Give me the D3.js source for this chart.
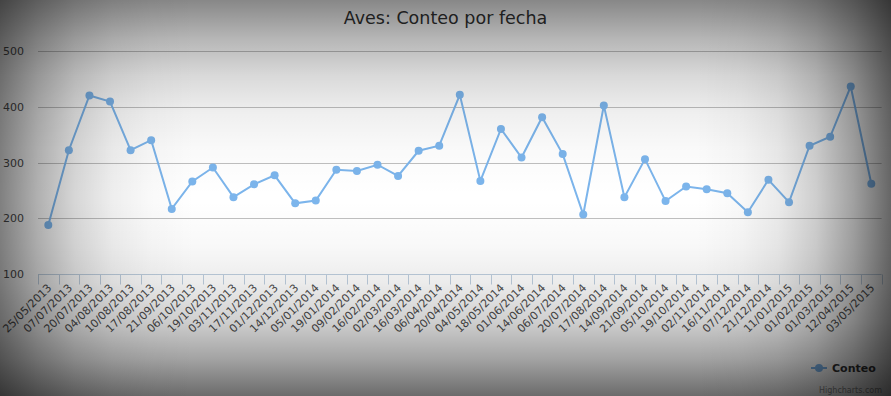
<!DOCTYPE html>
<html>
<head>
<meta charset="utf-8">
<script src="https://cdn.jsdelivr.net/npm/d3@7"></script>
<style>
  body { margin: 0; background: #fff; }
  text { font-family: "DejaVu Sans", Verdana, sans-serif; }
</style>
</head>
<body>
<div id="chart"></div>
<script>
// fechas del conteo
const fechas = ["25/05/2013","07/07/2013","20/07/2013","04/08/2013","10/08/2013","17/08/2013",
  "21/09/2013","06/10/2013","19/10/2013","03/11/2013","17/11/2013","01/12/2013","14/12/2013",
  "05/01/2014","19/01/2014","09/02/2014","16/02/2014","02/03/2014","16/03/2014","06/04/2014",
  "20/04/2014","04/05/2014","18/05/2014","01/06/2014","14/06/2014","06/07/2014","20/07/2014",
  "17/08/2014","14/09/2014","21/09/2014","05/10/2014","19/10/2014","02/11/2014","16/11/2014",
  "07/12/2014","21/12/2014","11/01/2015","01/02/2015","01/03/2015","12/04/2015","03/05/2015"];

const conteo = [188, 322, 420, 409, 322, 340, 217, 266, 291, 238, 261, 277, 227,
  232, 287, 285, 296, 276, 321, 330, 421, 267, 360, 309, 381, 315, 207,
  402, 238, 306, 231, 257, 252, 245, 211, 269, 229, 330, 346, 436, 262];

const yTicks = [100, 200, 300, 400, 500];

const width = 891, height = 396;
const plot = {left: 38, right: 881.6, top: 50.7, bottom: 274.3};
const lineColor = "#7cb5ec";

const svg = d3.select("#chart")
  .append("svg")
    .attr("width", width)
    .attr("height", height);

svg.append("rect")
  .attr("width", width)
  .attr("height", height)
  .attr("fill", "#fff");

let x = d3.scaleBand()
  .domain(fechas)
  .range([plot.left, plot.right]);

let y = d3.scaleLinear()
  .domain([100, 500])
  .range([plot.bottom, plot.top]);

// grid lines
svg.append("g")
  .selectAll("line")
  .data(yTicks.filter(d => d > 100))
  .join("line")
    .attr("x1", plot.left)
    .attr("x2", plot.right)
    .attr("y1", d => Math.round(y(d)) + 0.5)
    .attr("y2", d => Math.round(y(d)) + 0.5)
    .attr("stroke", "#c0c0c0")
    .attr("stroke-width", 1);

// y labels
svg.append("g")
  .selectAll("text")
  .data(yTicks)
  .join("text")
    .attr("x", 24)
    .attr("y", d => y(d) + 4)
    .attr("text-anchor", "end")
    .attr("fill", "#4d4d4d")
    .style("font-size", "11px")
    .text(d => d);

// x axis
const xAxis = svg.append("g")
  .attr("transform", `translate(0, ${Math.round(plot.bottom) + 0.5})`);

xAxis.append("line")
  .attr("x1", plot.left)
  .attr("x2", plot.right)
  .attr("stroke", "#c0d0e0");

xAxis.selectAll("line.tick")
  .data(fechas.concat(["__end"]))
  .join("line")
    .attr("class", "tick")
    .attr("x1", (d, i) => Math.round(plot.left + i * x.bandwidth()) + 0.5)
    .attr("x2", (d, i) => Math.round(plot.left + i * x.bandwidth()) + 0.5)
    .attr("y1", 0)
    .attr("y2", 10)
    .attr("stroke", "#c0d0e0");

xAxis.selectAll("text")
  .data(fechas)
  .join("text")
    .attr("text-anchor", "end")
    .attr("transform", d => `translate(${x(d) + x.bandwidth() / 2 + 4}, 14) rotate(-45)`)
    .attr("fill", "#4d4d4d")
    .style("font-size", "11px")
    .text(d => d);

// serie
const pts = fechas.map((f, i) => ({f: f, v: conteo[i]}));

svg.append("path")
  .datum(pts)
  .attr("d", d3.line()
    .x(d => x(d.f) + x.bandwidth() / 2)
    .y(d => y(d.v)))
  .attr("fill", "none")
  .attr("stroke", lineColor)
  .attr("stroke-width", 2);

svg.append("g")
  .selectAll("circle")
  .data(pts)
  .join("circle")
    .attr("cx", d => x(d.f) + x.bandwidth() / 2)
    .attr("cy", d => y(d.v))
    .attr("r", 4)
    .attr("fill", lineColor);

// title
svg.append("text")
  .attr("x", width / 2)
  .attr("y", 24)
  .attr("text-anchor", "middle")
  .attr("fill", "#333")
  .style("font-size", "17.5px")
  .text("Aves: Conteo por fecha");

// legend
const legend = svg.append("g").attr("transform", "translate(811, 368)");
legend.append("line")
  .attr("x1", 0).attr("x2", 16)
  .attr("stroke", lineColor)
  .attr("stroke-width", 2);
legend.append("circle")
  .attr("cx", 8).attr("r", 4)
  .attr("fill", lineColor);
legend.append("text")
  .attr("x", 21)
  .attr("y", 4)
  .attr("fill", "#333")
  .style("font-size", "11px")
  .style("font-weight", "bold")
  .text("Conteo");

svg.append("text")
  .attr("x", 882)
  .attr("y", 393)
  .attr("text-anchor", "end")
  .attr("fill", "#909090")
  .style("font-size", "8px")
  .text("Highcharts.com");

// vignette: four edge shades stacked on top of everything
const sigma = 75;
const falloff = [[0, 0.5], [0.5, 0.31], [1, 0.16], [1.5, 0.067], [2, 0.023], [2.6, 0]];
const edges = [
  {id: "shTop",    a: 0.94, x1: 0, y1: 0, x2: 0, y2: 1},
  {id: "shBottom", a: 1.0,  x1: 0, y1: height, x2: 0, y2: height - 1},
  {id: "shLeft",   a: 1.0,  x1: 0, y1: 0, x2: 1, y2: 0},
  {id: "shRight",  a: 1.0,  x1: width, y1: 0, x2: width - 1, y2: 0}
];
const defs = svg.append("defs");
edges.forEach(e => {
  const g = defs.append("linearGradient")
    .attr("id", e.id)
    .attr("gradientUnits", "userSpaceOnUse")
    .attr("x1", e.x1).attr("y1", e.y1)
    .attr("x2", e.x1 + (e.x2 - e.x1) * sigma * 2.6)
    .attr("y2", e.y1 + (e.y2 - e.y1) * sigma * 2.6);
  falloff.forEach(s => {
    g.append("stop")
      .attr("offset", s[0] / 2.6)
      .attr("stop-color", "#000")
      .attr("stop-opacity", Math.min(1, s[1] * e.a * (e.id === "shRight" ? 1.2 : e.id === "shBottom" ? 1.16 : 1)));
  });
  svg.append("rect")
    .attr("width", width)
    .attr("height", height)
    .attr("fill", `url(#${e.id})`)
    .style("pointer-events", "none");
});
</script>
</body>
</html>
